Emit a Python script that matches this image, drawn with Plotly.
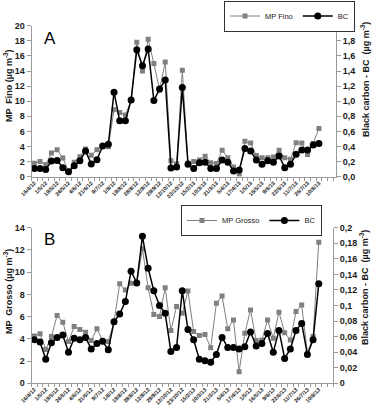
import plotly.graph_objects as go

# ---------------- data ----------------
tick_labels = ["16/4/12", "1/5/12", "19/5/12", "24/5/12", "4/6/12", "21/6/12", "9/7/12",
               "1/8/12", "19/8/12", "28/8/12", "12/9/12", "29/9/12", "12/10/12", "23/10/12",
               "15/2/13", "10/3/13", "21/3/13", "5/4/13", "17/4/13", "1/5/13", "16/5/13",
               "9/6/13", "22/6/13", "11/7/13", "26/7/13", "10/8/13"]

mp_fino = [1.77, 2.0, 1.6, 3.13, 3.58, 2.47, 0.75, 1.9, 2.65, 3.66, 2.83, 3.58, 4.06, 3.97,
           8.87, 8.5, 8.17, 10.1, 17.8, 14.0, 18.2, 15.0, 11.5, 15.2, 2.1, 1.7, 14.1, 1.8,
           2.0, 2.2, 2.7, 1.85, 1.75, 3.5, 2.5, 1.3, 0.35, 4.7, 4.45, 2.8, 2.5, 2.5, 2.6,
           3.5, 2.5, 2.3, 4.5, 4.45, 2.95, 4.4, 6.4]

bc_a = [0.110, 0.110, 0.097, 0.207, 0.216, 0.119, 0.066, 0.146, 0.212, 0.340, 0.168, 0.225,
        0.406, 0.430, 1.120, 0.740, 0.740, 1.015, 1.680, 1.470, 1.690, 1.010, 1.160, 1.280,
        0.115, 0.130, 1.180, 0.165, 0.110, 0.186, 0.190, 0.110, 0.110, 0.220, 0.190, 0.075,
        0.090, 0.375, 0.340, 0.220, 0.164, 0.210, 0.190, 0.274, 0.120, 0.164, 0.296, 0.355,
        0.355, 0.420, 0.440]

mp_grosso = [4.25, 4.45, 3.05, 4.2, 6.1, 5.5, 3.75, 5.1, 4.85, 4.6, 3.85, 4.9, 3.85, 3.75,
             5.5, 8.95, 8.4, 9.0, 9.05, 12.1, 8.6, 6.2, 6.0, 8.6, 4.75, 6.9, 6.3, 8.3, 4.65,
             4.3, 4.4, 3.2, 7.2, 7.85, 4.9, 5.7, 1.05, 4.5, 6.6, 3.85, 3.9, 5.7, 4.05, 6.4,
             4.55, 3.9, 6.45, 7.05, 2.7, 4.2, 12.7]

bc_b = [0.056, 0.053, 0.031, 0.052, 0.059, 0.062, 0.040, 0.058, 0.056, 0.059, 0.044, 0.051,
        0.054, 0.043, 0.079, 0.089, 0.105, 0.144, 0.129, 0.189, 0.148, 0.119, 0.100, 0.090,
        0.041, 0.046, 0.119, 0.069, 0.056, 0.031, 0.029, 0.027, 0.037, 0.059, 0.046, 0.046,
        0.044, 0.047, 0.066, 0.048, 0.051, 0.064, 0.040, 0.068, 0.032, 0.044, 0.068, 0.077,
        0.037, 0.056, 0.128]

a_left_ticks = [0, 2, 4, 6, 8, 10, 12, 14, 16, 18, 20]
a_right_ticks = [0.0, 0.2, 0.4, 0.6, 0.8, 1.0, 1.2, 1.4, 1.6, 1.8, 2.0]
a_right_text = ["0,0", "0,2", "0,4", "0,6", "0,8", "1,0", "1,2", "1,4", "1,6", "1,8", "2,0"]
b_left_ticks = [0, 2, 4, 6, 8, 10, 12, 14]
b_right_ticks = [0, 0.02, 0.04, 0.06, 0.08, 0.1, 0.12, 0.14, 0.16, 0.18, 0.2]
b_right_text = ["0", "0,02", "0,04", "0,06", "0,08", "0,1", "0,12", "0,14", "0,16", "0,18", "0,2"]

# ---------------- figure ----------------
W, H = 372, 409
idx = list(range(len(mp_fino)))
tickvals = idx[::2]

GRAY = "#808080"
AX = "#9a9a9a"
FONT = "Liberation Sans, Arial, sans-serif"
TXT = "#1a1a1a"

def px_x(p):
    return p / W

def px_y(p):
    return 1 - p / H

fig = go.Figure()

fig.add_trace(go.Scatter(x=idx, y=mp_fino, name="MP Fino", xaxis="x", yaxis="y",
                         mode="lines+markers", line=dict(color=GRAY, width=1),
                         marker=dict(symbol="square", size=5, color=GRAY), legend="legend"))
fig.add_trace(go.Scatter(x=idx, y=bc_a, name="BC", xaxis="x", yaxis="y2",
                         mode="lines+markers", line=dict(color="black", width=1.5),
                         marker=dict(symbol="circle", size=7, color="black"), legend="legend"))
fig.add_trace(go.Scatter(x=idx, y=mp_grosso, name="MP Grosso", xaxis="x2", yaxis="y3",
                         mode="lines+markers", line=dict(color=GRAY, width=1),
                         marker=dict(symbol="square", size=5, color=GRAY), legend="legend2"))
fig.add_trace(go.Scatter(x=idx, y=bc_b, name="BC", xaxis="x2", yaxis="y4",
                         mode="lines+markers", line=dict(color="black", width=1.5),
                         marker=dict(symbol="circle", size=7, color="black"), legend="legend2"))

tickfont = dict(family=FONT, size=9, color=TXT)
xtickfont = dict(family=FONT, size=5.5, color=TXT)

def xaxis(domain, rng, anchor):
    return dict(domain=domain, range=rng, anchor=anchor, tickmode="array",
                tickvals=tickvals, ticktext=["<b>%s</b>" % t for t in tick_labels],
                tickangle=-45, tickfont=xtickfont, ticks="", ticklen=1,
                minor=dict(ticks="outside", ticklen=3, tickcolor=AX, tickmode="linear",
                           tick0=0.5, dtick=1),
                showline=True, linecolor=AX, linewidth=1, showgrid=False, zeroline=False,
                automargin=False)

def yaxis(domain, rng, tv, tt, side, anchor, overlaying=None):
    d = dict(domain=domain, range=rng, anchor=anchor, side=side, tickmode="array",
             tickvals=tv, ticktext=["<b>%s</b>" % t for t in tt], tickfont=tickfont,
             ticks="outside", ticklen=4,
             tickcolor=AX, showline=True, linecolor=AX, linewidth=1, showgrid=False,
             zeroline=False, automargin=False)
    if overlaying:
        d["overlaying"] = overlaying
    return d

xa_dom = [px_x(31.5), px_x(336)]
xb_dom = [px_x(31.5), px_x(333)]
ya_dom = [px_y(176.7), px_y(25.7)]
yb_dom = [px_y(383.3), px_y(227.7)]

def vtitle(text, x, y):
    return dict(text="<b>%s</b>" % text, x=px_x(x), y=px_y(y), xref="paper", yref="paper",
                showarrow=False, textangle=-90, xanchor="center", yanchor="middle",
                font=dict(family=FONT, size=9, color=TXT))

legend_common = dict(orientation="h", xanchor="right", yanchor="top",
                     bordercolor="#333", borderwidth=1, bgcolor="white",
                     font=dict(family=FONT, size=7.5, color=TXT), itemwidth=30,
                     tracegroupgap=0)

fig.update_layout(
    width=W, height=H, margin=dict(l=0, r=0, t=0, b=0),
    paper_bgcolor="white", plot_bgcolor="white", separators=",.",
    font=dict(family=FONT),
    xaxis=xaxis(xa_dom, [-0.5, 53], "y"),
    xaxis2=xaxis(xb_dom, [-0.5, 52.5], "y3"),
    yaxis=yaxis(ya_dom, [0, 20], a_left_ticks, [str(v) for v in a_left_ticks], "left", "x"),
    yaxis2=yaxis(ya_dom, [0, 2], a_right_ticks, a_right_text, "right", "x", overlaying="y"),
    yaxis3=yaxis(yb_dom, [0, 14], b_left_ticks, [str(v) for v in b_left_ticks], "left", "x2"),
    yaxis4=yaxis(yb_dom, [0, 0.2], b_right_ticks, b_right_text, "right", "x2", overlaying="y3"),
    legend=dict(legend_common, x=px_x(355), y=px_y(0.5)),
    legend2=dict(legend_common, x=px_x(322), y=px_y(205)),
    annotations=[
        dict(text="A", x=px_x(42), y=px_y(39), xref="paper", yref="paper", showarrow=False,
             xanchor="left", yanchor="middle", font=dict(family=FONT, size=17, color="black")),
        dict(text="B", x=px_x(42), y=px_y(239), xref="paper", yref="paper", showarrow=False,
             xanchor="left", yanchor="middle", font=dict(family=FONT, size=17, color="black")),
        vtitle("MP  Fino (µg m<sup>-3</sup>)", 8, 86),
        vtitle("Black carbon - BC  (µg m<sup>-3</sup>)", 365, 80),
        vtitle("MP  Grosso (µg m<sup>-3</sup>)", 8, 292),
        vtitle("Black carbon - BC  (µg m<sup>-3</sup>)", 364, 288),
    ],
)

fig.write_html("out.html", config={"displayModeBar": False},
               post_script="document.body.style.margin='0';document.body.style.padding='0';")
